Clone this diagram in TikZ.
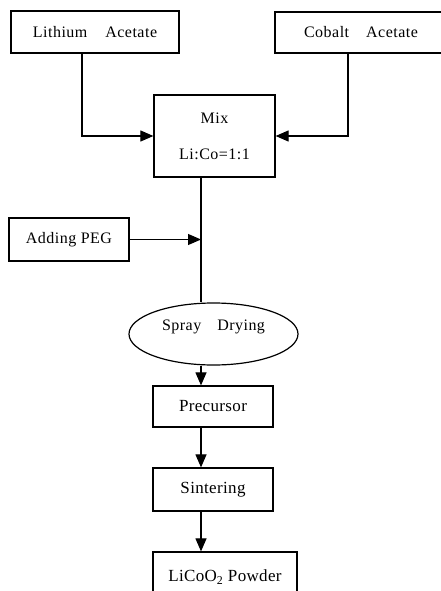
\documentclass[tikz,border=0pt]{standalone}
\usepackage{fontspec}
\setmainfont{Liberation Serif}
\usetikzlibrary{arrows.meta,shapes.geometric}
\begin{document}
\begin{tikzpicture}[x=1pt,y=-1pt,
  txt/.style={font=\fontsize{16}{18}\selectfont\addfontfeature{LetterSpace=3}},
  bigtxt/.style={font=\fontsize{17}{19}\selectfont\addfontfeature{LetterSpace=2}},
  box/.style={draw,line width=1.2pt,rectangle,inner sep=0pt,txt},
  oval/.style={draw,line width=1.2pt,ellipse,inner sep=0pt,txt},
  flow/.style={line width=1.1pt},
  arr/.style={line width=1.1pt,-{Triangle[length=13pt,width=11pt]}}]
\useasboundingbox (0,0) rectangle (441,591);
\clip (0,0) rectangle (441,591);
\coordinate (lx) at (82,0);
\coordinate (cx) at (348,0);
\coordinate (fx) at (201,0);
\node[box,minimum width=168pt,minimum height=42pt] (lith) at (95,32) {Lithium\hspace{18pt}Acetate\hspace{-10pt}};
\node[box,minimum width=172pt,minimum height=41pt] (cob) at (361,32.5) {Cobalt\hspace{17pt}Acetate\hspace{18pt}};
\node[box,minimum width=121pt,minimum height=82pt,align=center] (mix) at (214.5,136) {Mix\\[18pt]Li:Co=1:1};
\node[box,minimum width=120pt,minimum height=43pt] (peg) at (69,239.5) {Adding PEG\hspace{12pt}};
\node[oval,minimum width=169pt,minimum height=62pt] (ell) at (213.5,334) {\raisebox{4pt}[0pt][0pt]{Spray\hspace{16pt}Drying}\hspace{7pt}};
\node[box,minimum width=120pt,minimum height=41pt,bigtxt] (prec) at (213,406.5) {Precursor\hspace{10pt}};
\node[box,minimum width=120pt,minimum height=43pt,bigtxt] (sint) at (213,489.5) {Sintering\hspace{16pt}};
\node[box,minimum width=144pt,minimum height=50pt,bigtxt] (lico) at (225,577) {\raisebox{-2pt}{LiCoO\textsubscript{2} Powder}\hspace{8pt}};
\draw[arr] (lith.south -| lx) |- (mix.west);
\draw[arr] (cob.south -| cx) |- (mix.east);
\draw[flow] (mix.south -| fx) -- (ell.north -| fx);
\draw[arr] (peg.east) -- (peg.east -| fx);
\draw[arr] (ell.south -| fx) -- (prec.north -| fx);
\draw[arr] (prec.south -| fx) -- (sint.north -| fx);
\draw[arr] (sint.south -| fx) -- (lico.north -| fx);
\end{tikzpicture}
\end{document}
